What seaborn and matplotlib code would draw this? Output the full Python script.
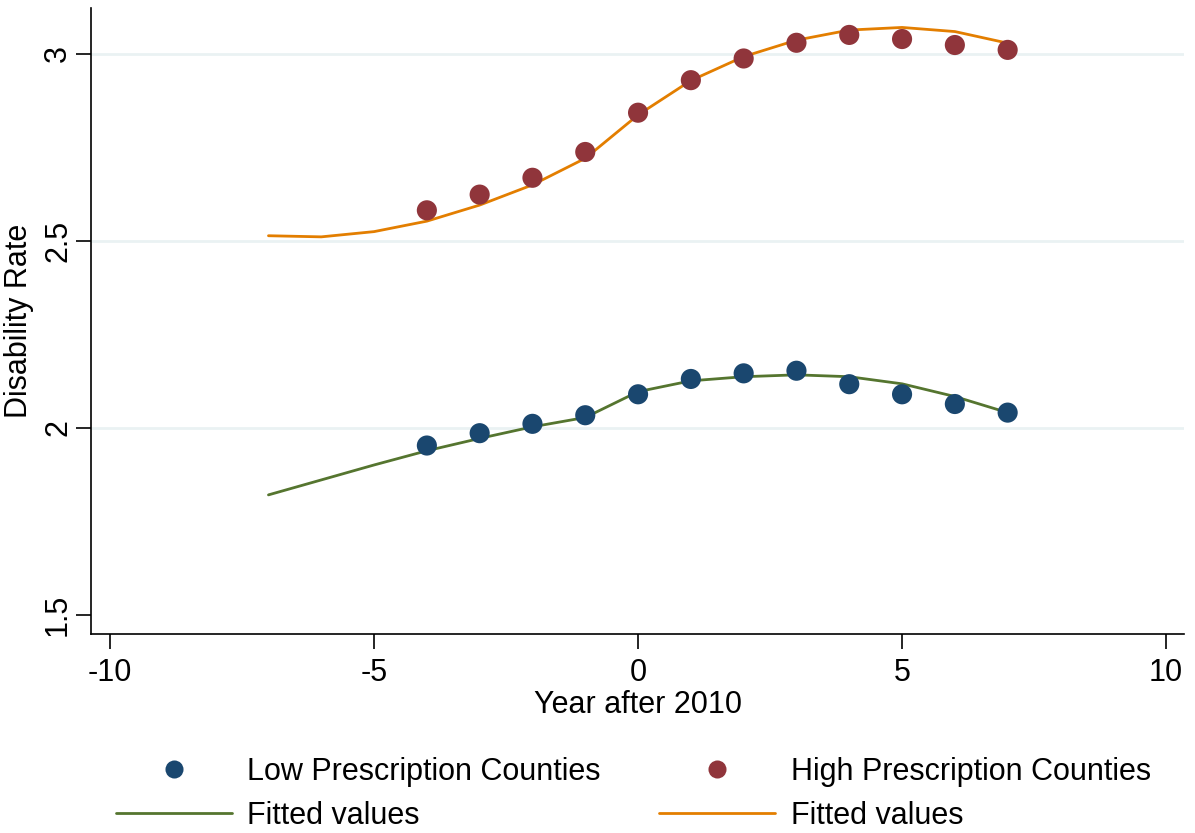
import numpy as np
import pandas as pd
import matplotlib
matplotlib.use("Agg")
import matplotlib.pyplot as plt
import seaborn as sns
from matplotlib.lines import Line2D

# data
years = [-4, -3, -2, -1, 0, 1, 2, 3, 4, 5, 6, 7]
low_rate = [1.953, 1.986, 2.011, 2.034, 2.090, 2.131, 2.146, 2.153, 2.117, 2.090, 2.064, 2.041]
high_rate = [2.582, 2.624, 2.669, 2.738, 2.843, 2.930, 2.988, 3.030, 3.051, 3.040, 3.024, 3.011]

fit_years = [-7, -6, -5, -4, -3, -2, -1, 0, 1, 2, 3, 4, 5, 6, 7]
low_fit = [1.821, 1.861, 1.901, 1.939, 1.972, 2.003, 2.028, 2.097, 2.126, 2.137, 2.142, 2.137, 2.118, 2.084, 2.041]
high_fit = [2.514, 2.511, 2.525, 2.553, 2.596, 2.650, 2.721, 2.837, 2.929, 2.993, 3.037, 3.064, 3.071, 3.060, 3.029]

navy = "#1a476f"
maroon = "#90353b"
green = "#55752f"
orange = "#e37e00"

sns.set_theme(style="white")
plt.rcParams['font.family'] = ['Liberation Sans', 'DejaVu Sans']
plt.rcParams['text.color'] = 'black'

fig = plt.figure(figsize=(11.95, 8.33), dpi=100)
ax = fig.add_axes([0.0762, 0.2389, 0.9146, 0.7515])

fs = 22

for yv in [2, 2.5, 3]:
    ax.axhline(yv, color="#eaf2f3", lw=2, zorder=0)

sns.lineplot(x=fit_years, y=low_fit, color=green, lw=2, ax=ax, zorder=2)
sns.lineplot(x=fit_years, y=high_fit, color=orange, lw=2, ax=ax, zorder=2)
sns.scatterplot(x=years, y=low_rate, color=navy, s=210, edgecolor="none", ax=ax, zorder=3)
sns.scatterplot(x=years, y=high_rate, color=maroon, s=210, edgecolor="none", ax=ax, zorder=3)

ax.set_xlim(-10.36, 10.34)
ax.set_ylim(1.449, 3.123)
ax.set_xticks([-10, -5, 0, 5, 10])
ax.set_xticklabels(["-10", "-5", "0", "5", "10"])
ax.set_yticks([1.5, 2, 2.5, 3])
ax.set_yticklabels(["1.5", "2", "2.5", "3"], rotation=90, va="center")
ax.tick_params(axis="both", direction="out", length=11, width=1.2, color="black",
               labelsize=fs, labelcolor="black", pad=6)
ax.tick_params(axis="y", pad=2)
ax.tick_params(axis="both", which="both", bottom=True, left=True)

for s in ["top", "right"]:
    ax.spines[s].set_visible(False)
for s in ["left", "bottom"]:
    ax.spines[s].set_color("black")
    ax.spines[s].set_linewidth(1.2)

ax.set_xlabel("Year after 2010", fontsize=fs, color="black", labelpad=2)
ax.set_ylabel("Disability Rate", fontsize=fs, color="black")
ax.yaxis.set_label_coords(-0.052, 0.5)

handles = [
    Line2D([], [], ls="none", marker="o", markersize=13, color=navy, mec="none"),
    Line2D([], [], color=green, lw=2),
    Line2D([], [], ls="none", marker="o", markersize=13, color=maroon, mec="none"),
    Line2D([], [], color=orange, lw=2),
]
labels = ["Low Prescription Counties", "Fitted values",
          "High Prescription Counties", "Fitted values"]
fig.legend(handles, labels, loc="center", bbox_to_anchor=(0.53, 0.0468), ncol=2,
           frameon=False, fontsize=fs, handlelength=3.8, handletextpad=0.5,
           columnspacing=1.92, labelspacing=0.45, labelcolor="black")

fig.savefig("out.png", dpi=100, facecolor="white")
